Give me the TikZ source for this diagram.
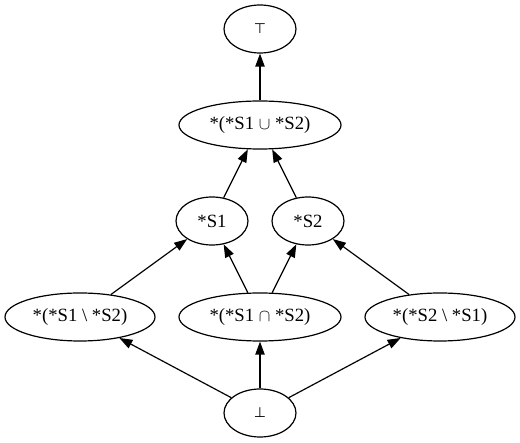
\documentclass[tikz,border=0pt]{standalone}
\usepackage{fontspec}
\setmainfont{Liberation Serif}
\newfontfamily\symfont{DejaVu Sans}
\usetikzlibrary{positioning,arrows.meta,shapes.geometric}

\begin{document}
\begin{tikzpicture}[x=1pt,y=-1pt,every node/.style={font=\fontsize{18.7}{22}\selectfont},
  set/.style={draw,ellipse,line width=1.2pt,inner sep=0pt,minimum height=48pt,minimum width=72pt},
  wide/.style={set,minimum width=162pt},
  diff/.style={set,minimum width=150pt},
  arr/.style={-{Triangle[length=13pt,width=9.3pt]},line width=1.2pt}]
  \useasboundingbox (0,0) rectangle (520,443);
  \node[set] (top) at (260,29) {\symfont\fontsize{14}{16}\selectfont ⊤};
  \node[wide] (cup) at (260,125) {*(*S1 $\cup$ *S2)};
  \node[set] (s1) at (212,221) {*S1};
  \node[set] (s2) at (308,221) {*S2};
  \node[diff] (d1) at (80,317) {*(*S1 \textbackslash{} *S2)};
  \node[wide] (cap) at (260,317) {*(*S1 $\cap$ *S2)};
  \node[diff] (d2) at (440,317) {*(*S2 \textbackslash{} *S1)};
  \node[set] (bot) at (260,413) {\symfont\fontsize{14}{16}\selectfont ⊥};
  \draw[arr] (cup) -- (top);
  \draw[arr] (s1) -- (cup);
  \draw[arr] (s2) -- (cup);
  \draw[arr] (d1) -- (s1);
  \draw[arr] (cap) -- (s1);
  \draw[arr] (cap) -- (s2);
  \draw[arr] (d2) -- (s2);
  \draw[arr] (bot) -- (d1);
  \draw[arr] (bot) -- (cap);
  \draw[arr] (bot) -- (d2);
\end{tikzpicture}
\end{document}
